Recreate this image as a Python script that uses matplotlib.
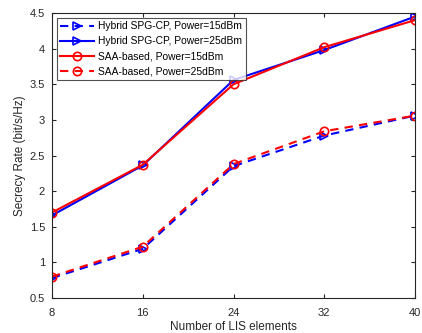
import matplotlib
matplotlib.use("Agg")
import matplotlib.pyplot as plt

x = [8, 16, 24, 32, 40]
hyb_15 = [0.78, 1.19, 2.35, 2.78, 3.06]
hyb_25 = [1.66, 2.36, 3.56, 3.98, 4.45]
saa_15 = [1.70, 2.37, 3.50, 4.02, 4.40]
saa_25 = [0.80, 1.22, 2.38, 2.84, 3.06]
labels = ["Hybrid SPG-CP, Power=15dBm", "Hybrid SPG-CP, Power=25dBm",
          "SAA-based, Power=15dBm", "SAA-based, Power=25dBm"]
xticks = [8, 16, 24, 32, 40]
yticks = [0.5, 1, 1.5, 2, 2.5, 3, 3.5, 4, 4.5]

plt.rcParams['font.family'] = ['Liberation Sans', 'DejaVu Sans']
fig = plt.figure(figsize=(4.22, 3.33), dpi=100)
ax = fig.add_axes([52/422, 1-298/333, (415-52)/422, (298-13)/333])

ax.plot(x, hyb_15, color='#0000ff', ls=(0, (4, 3)), lw=1.5, marker='>', ms=6,
        mfc='none', mew=1.2, label=labels[0])
ax.plot(x, hyb_25, color='#0000ff', ls='-', lw=1.5, marker='>', ms=6,
        mfc='none', mew=1.2, label=labels[1])
ax.plot(x, saa_15, color='#ff0000', ls='-', lw=1.5, marker='o', ms=6,
        mfc='none', mew=1.2, label=labels[2])
ax.plot(x, saa_25, color='#ff0000', ls=(0, (4, 3)), lw=1.5, marker='o', ms=6,
        mfc='none', mew=1.2, label=labels[3])

ax.set_xlim(8, 40)
ax.set_ylim(0.5, 4.5)
ax.set_xticks(xticks)
ax.set_xticklabels([str(v) for v in xticks])
ax.set_yticks(yticks)
ax.set_yticklabels([f"{v:g}" for v in yticks])
ax.tick_params(direction='in', length=3, labelsize=8, colors='#262626',
               top=True, right=True)
ax.tick_params(axis='x', pad=7)
ax.tick_params(axis='y', pad=5)
for s in ax.spines.values():
    s.set_color('#262626')
    s.set_linewidth(0.8)
ax.set_xlabel("Number of LIS elements", fontsize=8.5, color='#262626', labelpad=2)
ax.set_ylabel("Secrecy Rate (bit/s/Hz)", fontsize=8.5, color='#262626', labelpad=3)

leg = ax.legend(loc='upper left', fontsize=7.35, frameon=True, fancybox=False,
                edgecolor='#262626', handlelength=3.3, borderaxespad=0.45,
                labelspacing=0.5, handletextpad=0.4, borderpad=0.35)
leg.get_frame().set_linewidth(0.8)

fig.savefig("out.png", dpi=100)
